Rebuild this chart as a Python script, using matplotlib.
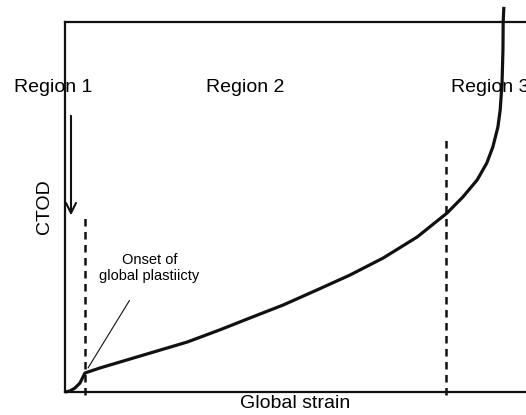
import matplotlib
matplotlib.use("Agg")
import matplotlib.pyplot as plt

plt.rcParams['font.family'] = ['Liberation Sans', 'DejaVu Sans']

# CTOD vs global strain (arbitrary units)
strain = [0, 1.08, 2.17, 3.25, 3.90, 4.34, 7.6, 13.4, 26.5, 33.6, 40.1, 47.3,
          54.7, 61.8, 69.0, 76.4, 82.9, 86.3, 89.4, 91.5, 92.8, 93.9, 94.4,
          94.8, 95.0, 95.05, 95.2]
ctod = [0, 0.27, 1.08, 2.43, 4.05, 5.14, 6.5, 8.65, 13.5, 16.8, 20.0, 23.5,
        27.6, 31.6, 36.2, 41.9, 48.4, 52.7, 57.3, 61.9, 66.2, 71.6, 76.2,
        83.5, 92.4, 100, 104.1]

# region boundaries
bound_x = [4.34, 82.6]
bound_top = [47.3, 69.5]
region_labels = ["Region 1", "Region 2", "Region 3"]
region_x = [-2.6, 39, 83.7]

fig = plt.figure(figsize=(5.26, 4.15), dpi=100)
ax = fig.add_axes([65/526, 23/415, 1 - 65/526, 370/415])
ax.set_xlim(0, 100)
ax.set_ylim(0, 100)

ax.plot(strain, ctod, color='#111111', lw=2.3, clip_on=False,
        solid_capstyle='butt', solid_joinstyle='round')

for bx, bt in zip(bound_x, bound_top):
    ax.plot([bx, bx], [-0.8, bt], color='#111111', lw=1.8, dashes=(3, 2.2), clip_on=False)

ax.text(region_x[0], 82.2, region_labels[0], fontsize=14, ha='center', va='center')
ax.text(region_x[1], 82.2, region_labels[1], fontsize=14, ha='center', va='center')
ax.text(region_x[2], 82.2, region_labels[2], fontsize=14, ha='left', va='center', clip_on=False)

# arrow for region 1
ax.annotate("", xy=(1.3, 47.0), xytext=(1.3, 75.4),
            arrowprops=dict(arrowstyle='->', color='#111111', lw=1.5, mutation_scale=18),
            annotation_clip=False)

# onset of global plasticity
ax.annotate("Onset of\nglobal plastiicty", xy=(5.0, 6.5), xytext=(18.3, 33.5),
            fontsize=10.5, ha='center', va='center', linespacing=1.25,
            arrowprops=dict(arrowstyle='-', color='#111111', lw=0.8, shrinkA=12, shrinkB=0))

ax.set_xlabel("Global strain", fontsize=14, labelpad=2)
ax.set_ylabel("CTOD", fontsize=14, labelpad=9)
ax.set_xticks([])
ax.set_yticks([])
ax.spines['right'].set_visible(False)
for s in ['left', 'top', 'bottom']:
    ax.spines[s].set_linewidth(1.6)
    ax.spines[s].set_color('#111111')

fig.savefig("out.png", dpi=100)
